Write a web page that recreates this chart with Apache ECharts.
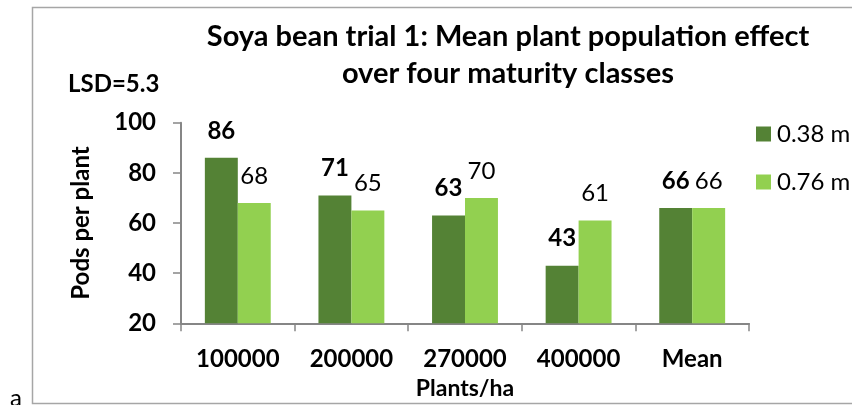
<!DOCTYPE html>
<html>
<head>
<meta charset="utf-8">
<script src="https://cdn.jsdelivr.net/npm/echarts@6/dist/echarts.min.js"></script>
<style>
  html, body { margin: 0; padding: 0; background: #fff; }
  #chart { width: 852px; height: 405px; }
</style>
</head>
<body>
<div id="chart"></div>
<script>
// Plant population classes and pod counts per spacing
const categories = ['100000', '200000', '270000', '400000', 'Mean'];
const rowNarrow = [86, 71, 63, 43, 66];   // 0.38 m rows
const rowWide = [68, 65, 70, 61, 66];     // 0.76 m rows
const yTicks = { min: 20, max: 100, interval: 20 };

const FONT = 'Lato, "Open Sans", sans-serif';
const DARK = '#548235';
const LIGHT = '#92D050';
const AXIS = '#868686';

const chart = echarts.init(document.getElementById('chart'));

chart.setOption({
  animation: false,
  textStyle: { fontFamily: FONT },
  title: {
    text: 'Soya bean trial 1: Mean plant population effect\nover four maturity classes',
    left: 508, top: 18, textAlign: 'center', padding: 0,
    textStyle: { fontFamily: FONT, fontWeight: 'bold', fontSize: 29, lineHeight: 37, color: '#000' }
  },
  legend: {
    orient: 'vertical', left: 756, top: 122, padding: 0,
    itemWidth: 15, itemHeight: 15, itemGap: 24,
    icon: 'rect',
    textStyle: { fontFamily: FONT, fontSize: 24, color: '#000', padding: [0, 0, 0, 1] },
    data: ['0.38 m', '0.76 m']
  },
  grid: { left: 181, right: 103, top: 122.7, bottom: 81.7, containLabel: false },
  xAxis: {
    type: 'category',
    data: categories,
    name: 'Plants/ha',
    nameLocation: 'middle',
    nameGap: 54,
    nameTextStyle: { fontFamily: FONT, fontWeight: 'bold', fontSize: 23, color: '#000' },
    axisLine: { lineStyle: { color: AXIS, width: 2 } },
    axisTick: { show: true, length: 8, lineStyle: { color: AXIS, width: 1.5 } },
    axisLabel: { fontFamily: FONT, fontWeight: 'bold', fontSize: 24, color: '#000', margin: 24 }
  },
  yAxis: {
    type: 'value',
    min: yTicks.min, max: yTicks.max, interval: yTicks.interval,
    name: 'Pods per plant',
    nameLocation: 'middle',
    nameGap: 88,
    nameTextStyle: { fontFamily: FONT, fontWeight: 'bold', fontSize: 24, color: '#000' },
    axisLine: { show: true, lineStyle: { color: AXIS, width: 2 } },
    axisTick: { show: true, length: 8, lineStyle: { color: AXIS, width: 1.5 } },
    splitLine: { show: false },
    axisLabel: { fontFamily: FONT, fontWeight: 'bold', fontSize: 24, color: '#000', margin: 25 }
  },
  series: [
    {
      name: '0.38 m', type: 'bar', data: rowNarrow,
      itemStyle: { color: DARK },
      barGap: '0%', barCategoryGap: '42%',
      label: {
        show: true, position: 'top', distance: 15,
        fontFamily: FONT, fontWeight: 'bold', fontSize: 24, color: '#000'
      }
    },
    {
      name: '0.76 m', type: 'bar', data: rowWide,
      itemStyle: { color: LIGHT },
      barGap: '0%', barCategoryGap: '42%',
      label: {
        show: true, position: 'top', distance: 15,
        fontFamily: FONT, fontSize: 24, color: '#000'
      }
    }
  ],
  graphic: [
    {
      type: 'rect', silent: true, z: -1,
      shape: { x: 32.5, y: 7.5, width: 840, height: 396 },
      style: { fill: 'none', stroke: '#a6a6a6', lineWidth: 1.5 }
    },
    {
      type: 'text', left: 68, top: 72,
      style: { text: 'LSD=5.3', font: 'bold 24px ' + FONT, fill: '#000' }
    },
    {
      type: 'text', left: 10, top: 386,
      style: { text: 'a', font: '24px ' + FONT, fill: '#000' }
    }
  ]
});
</script>
</body>
</html>
